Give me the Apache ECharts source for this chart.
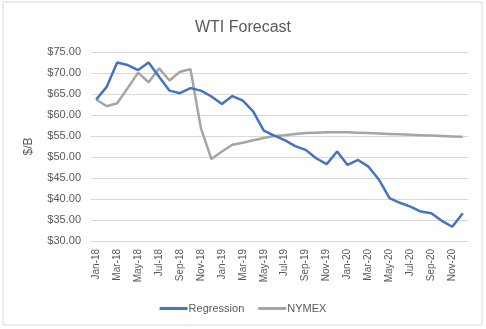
<!DOCTYPE html>
<html><head><meta charset="utf-8">
<script src="https://cdn.jsdelivr.net/npm/echarts@6/dist/echarts.min.js"></script>
<style>html,body{margin:0;padding:0;background:#fff}#c{width:486px;height:329px}</style>
</head><body><div id="c"></div>
<script>
const months = ['Jan-18','Feb-18','Mar-18','Apr-18','May-18','Jun-18','Jul-18','Aug-18','Sep-18','Oct-18','Nov-18','Dec-18',
'Jan-19','Feb-19','Mar-19','Apr-19','May-19','Jun-19','Jul-19','Aug-19','Sep-19','Oct-19','Nov-19','Dec-19',
'Jan-20','Feb-20','Mar-20','Apr-20','May-20','Jun-20','Jul-20','Aug-20','Sep-20','Oct-20','Nov-20','Dec-20'];
const regression = [63.7,66.7,72.5,71.9,70.7,72.5,69.1,65.8,65.2,66.4,65.8,64.4,
62.6,64.5,63.4,60.8,56.3,55.1,54.0,52.6,51.7,49.7,48.3,51.3,
48.1,49.3,47.7,44.6,40.2,39.1,38.2,37.0,36.6,34.8,33.4,36.6];
const nymex = [63.7,62.1,62.8,66.4,70.1,67.8,71.1,68.2,70.3,70.9,56.8,49.5,
51.3,52.9,53.4,54.0,54.5,55.0,55.2,55.5,55.7,55.8,55.9,55.9,
55.9,55.8,55.7,55.6,55.5,55.4,55.3,55.2,55.1,55.0,54.9,54.8];
const font = 'Liberation Sans, Arial, sans-serif';
const chart = echarts.init(document.getElementById('c'));
chart.setOption({
  animation:false,
  graphic:[{type:'rect',shape:{x:3,y:2,width:479,height:323},style:{fill:'none',stroke:'#d9d9d9',lineWidth:1}}],
  title:{text:'WTI Forecast',left:'center',top:15,textStyle:{fontFamily:font,fontSize:16,fontWeight:'normal',color:'#595959'}},
  legend:{bottom:10,left:'center',itemWidth:28,itemHeight:3,itemGap:14,icon:'rect',
    textStyle:{fontFamily:font,fontSize:11,color:'#595959',padding:[0,0,0,-4]},
    data:['Regression','NYMEX']},
  grid:{left:91,right:18,top:52,bottom:88,containLabel:false},
  xAxis:{type:'category',data:months,boundaryGap:true,
    axisLine:{lineStyle:{color:'#d9d9d9'}},axisTick:{show:false},
    axisLabel:{interval:1,rotate:90,fontFamily:font,fontSize:10,color:'#595959',margin:8}},
  yAxis:{type:'value',min:30,max:75,interval:5,name:'$/B',nameLocation:'middle',nameGap:56,
    nameTextStyle:{fontFamily:font,fontSize:12,color:'#595959'},
    axisLine:{show:false},axisTick:{show:false},
    axisLabel:{formatter:v=>'$'+v.toFixed(2),fontFamily:font,fontSize:11,color:'#595959',margin:10},
    splitLine:{lineStyle:{color:'#d9d9d9'}}},
  series:[
    {name:'Regression',type:'line',data:regression,symbol:'none',lineStyle:{color:'#4472c4',width:2.5},itemStyle:{color:'#4472c4'},z:3},
    {name:'NYMEX',type:'line',data:nymex,symbol:'none',lineStyle:{color:'#a5a5a5',width:2.5},itemStyle:{color:'#a5a5a5'},z:2}
  ]
});
</script></body></html>
